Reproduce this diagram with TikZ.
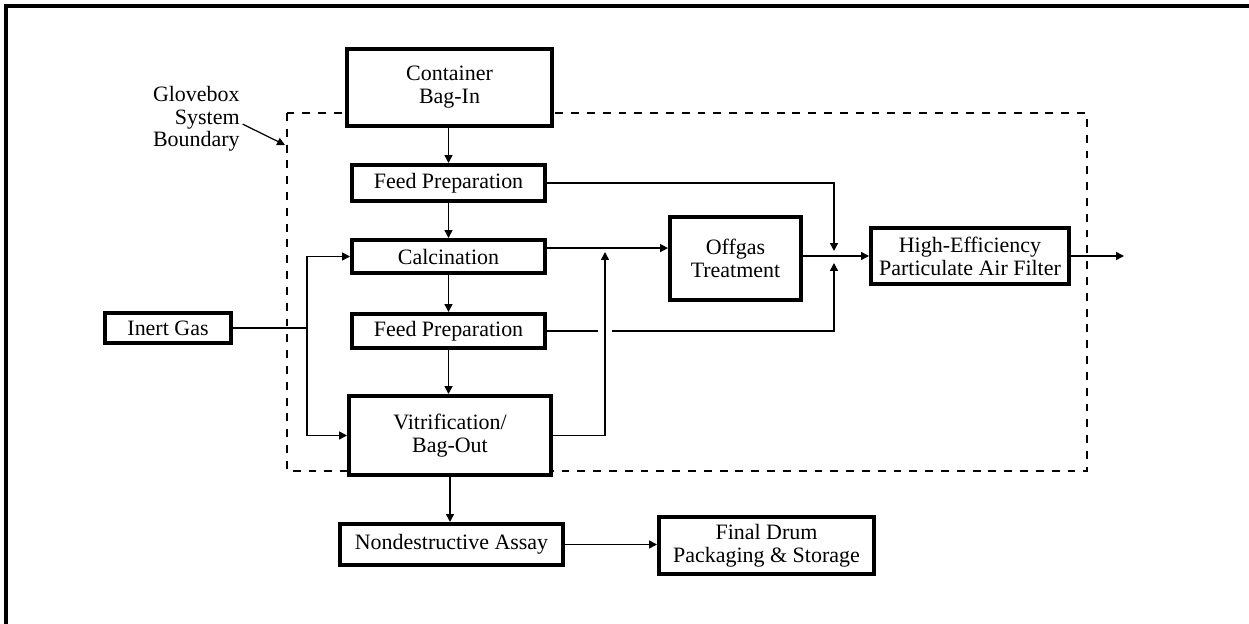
\documentclass[tikz,border=0pt]{standalone}
\usepackage{fontspec}
\setmainfont{Liberation Serif}
\usepackage{tikz}
\usetikzlibrary{arrows.meta}

\begin{document}
\begin{tikzpicture}[x=0.02cm,y=-0.02cm,
    box/.style={draw,line width=2pt,fill=white,inner sep=0pt,align=center,
      font=\fontsize{12.5}{13.2}\selectfont},
    flow/.style={-{Triangle[length=4.5pt,width=4.5pt]},line width=0.85pt},
    link/.style={line width=0.85pt}]
        \useasboundingbox (0,0) rectangle (1249,624);
        % frame and glovebox boundary
        \draw[line width=2.3pt] (6,624) -- (6,6) -- (1249,6);
        \draw[line width=0.85pt,dash pattern=on 4.5pt off 4.5pt] (287,113) rectangle (1087,471);
        \node[align=right,anchor=north east,inner sep=0pt,
          font=\fontsize{12.5}{12.8}\selectfont] (gbx) at (240,86) {Glovebox\\System\\Boundary};
        \coordinate (gbtip) at (285,145);
        \draw[flow,line width=0.7pt] ([xshift=1.5pt,yshift=-3pt]gbx.east) -- (gbtip);

        % process boxes
        \node[box,minimum width=4.11cm,minimum height=1.55cm] (bagin) at (449.5,87.5) {Container\\Bag-In};
        \node[box,minimum width=3.87cm,minimum height=0.73cm] (feedA) at (448.5,183) {Feed Preparation};
        \node[box,minimum width=3.87cm,minimum height=0.67cm] (calc) at (448.5,256.5) {Calcination};
        \node[box,minimum width=3.87cm,minimum height=0.69cm] (feedB) at (448.5,331) {Feed Preparation};
        \node[box,minimum width=4.05cm,minimum height=1.59cm] (vitr) at (450,435.5) {Vitrification/\\Bag-Out};
        \node[box,minimum width=2.53cm,minimum height=0.61cm] (inert) at (168,328) {Inert Gas};
        \node[box,minimum width=2.63cm,minimum height=1.67cm] (offgas) at (735.5,258.5) {Offgas\\Treatment};
        \node[box,minimum width=3.97cm,minimum height=1.13cm] (hepa) at (970,256) {High-Efficiency\\Particulate Air Filter};
        \node[box,minimum width=4.47cm,minimum height=0.83cm] (nda) at (451.5,544.5) {Nondestructive Assay};
        \node[box,minimum width=4.31cm,minimum height=1.15cm] (drum) at (766.5,545.5) {Final Drum\\Packaging \& Storage};

        % main line
        \draw[flow] (bagin.south -| feedA) -- (feedA.north);
        \draw[flow] (feedA.south) -- (calc.north);
        \draw[flow] (calc.south) -- (feedB.north);
        \draw[flow] (feedB.south) -- (feedB.south |- vitr.north);
        \draw[flow] (vitr.south) -- (vitr.south |- nda.north);
        \draw[flow] (nda.east) -- (nda.east -| drum.west);

        % inert gas feed
        \coordinate (split) at (307,328);
        \draw[link] (inert.east) -- (split);
        \draw[flow] (split) |- (calc.west);
        \draw[flow] (split) |- (vitr.west);

        % offgas lines
        \coordinate (vup) at (605,252);
        \coordinate (jtop) at (834,251);
        \coordinate (jbot) at (834,263);
        \coordinate (vent) at (1124,256);
        \draw[flow] ([yshift=4.8pt]calc.east) -- ([yshift=4.8pt]calc.east -| offgas.west);
        \draw[flow] (vitr.east) -| (vup);
        \draw[flow] (feedA.east) -| (jtop);
        \draw[link] (feedB.east) -- ([xshift=-4pt]feedB.east -| vup);
        \draw[flow] ([xshift=4pt]feedB.east -| vup) -| (jbot);
        \draw[flow] (offgas.east |- hepa.west) -- (hepa.west);
        \draw[flow] (hepa.east) -- (vent);
\end{tikzpicture}
\end{document}
